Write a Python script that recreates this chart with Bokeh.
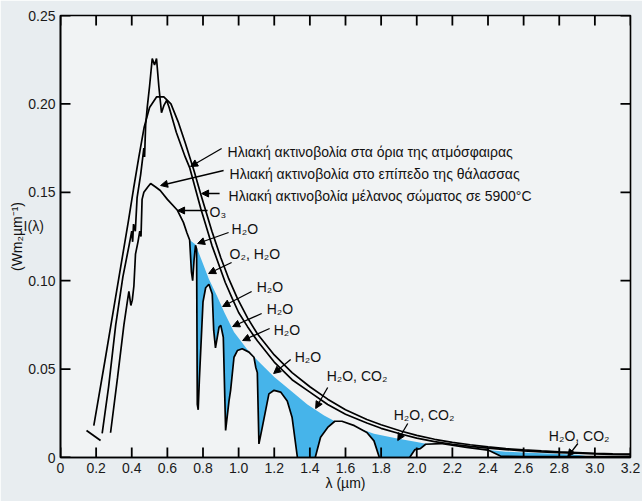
import math
from bokeh.plotting import figure
from bokeh.models import Range1d, FixedTicker, Label, Arrow, NormalHead, Title
from bokeh.embed import file_html
from bokeh.resources import INLINE

# ---------------- data ----------------
toa_wl = [0.234, 0.27, 0.31, 0.35, 0.385, 0.40, 0.405, 0.41, 0.42, 0.43, 0.45, 0.468, 0.472,
          0.478, 0.487, 0.50, 0.515, 0.528, 0.539, 0.552, 0.567, 0.58, 0.596, 0.61, 0.65, 0.70,
          0.725, 0.787, 0.85, 0.925, 0.964, 1.0, 1.05, 1.105, 1.2, 1.3, 1.4, 1.5, 1.6, 1.72,
          1.8, 1.91, 2.0, 2.1, 2.2, 2.3, 2.4, 2.5, 2.6, 2.7, 2.8, 2.9, 3.0, 3.1, 3.2]
toa_irr = [0.0136, 0.040, 0.075, 0.102, 0.120, 0.128, 0.122, 0.132, 0.128, 0.147, 0.160, 0.175,
           0.170, 0.188, 0.198, 0.210, 0.2257, 0.222, 0.2257, 0.210, 0.195, 0.199, 0.202, 0.198,
           0.184, 0.170, 0.164, 0.141, 0.120, 0.099, 0.090, 0.082, 0.074, 0.066, 0.054, 0.044,
           0.037, 0.030, 0.0245, 0.0195, 0.0165, 0.0133, 0.011, 0.009, 0.0075, 0.0063, 0.0053,
           0.0045, 0.0038, 0.0032, 0.0028, 0.0024, 0.0021, 0.0018, 0.0016]

bb_wl = [0.187, 0.25, 0.30, 0.35, 0.38, 0.41, 0.44, 0.47, 0.50, 0.54, 0.58, 0.62, 0.66, 0.70,
         0.75, 0.787, 0.85, 0.90, 0.945, 0.993, 1.05, 1.105, 1.2, 1.3, 1.4, 1.5, 1.6, 1.72,
         1.8, 1.91, 2.0, 2.1, 2.2, 2.3, 2.4, 2.5, 2.6, 2.7, 2.8, 2.9, 3.0, 3.1, 3.2]
bb_irr = [0.018, 0.055, 0.085, 0.115, 0.133, 0.152, 0.170, 0.187, 0.198, 0.204, 0.204, 0.200,
          0.190, 0.178, 0.162, 0.149, 0.128, 0.113, 0.101, 0.090, 0.079, 0.070, 0.058, 0.048,
          0.040, 0.033, 0.027, 0.0215, 0.0185, 0.015, 0.0125, 0.0103, 0.0086, 0.0072, 0.006,
          0.005, 0.0043, 0.0037, 0.0032, 0.0028, 0.0024, 0.0021, 0.0019]

sea_wl = [0.281, 0.32, 0.356, 0.375, 0.384, 0.395, 0.403, 0.412, 0.421, 0.435, 0.445, 0.452,
          0.458, 0.468, 0.49, 0.506, 0.534, 0.56, 0.60, 0.655, 0.69, 0.71, 0.725, 0.735, 0.742,
          0.75, 0.758, 0.764, 0.768, 0.773, 0.78, 0.80, 0.815, 0.833, 0.852, 0.86, 0.87, 0.89,
          0.90, 0.914, 0.927, 0.946, 0.955, 0.974, 0.993, 1.02, 1.058, 1.086, 1.096, 1.105,
          1.114, 1.133, 1.17, 1.199, 1.236, 1.273, 1.30, 1.33, 1.43, 1.46, 1.50, 1.54, 1.58,
          1.65, 1.72, 1.76, 1.79, 1.96, 1.99, 2.02, 2.05, 2.135, 2.28, 2.40, 2.47, 2.6, 2.8,
          3.0, 3.2]
sea_irr = [0.014, 0.045, 0.075, 0.088, 0.094, 0.086, 0.089, 0.097, 0.115, 0.122, 0.128, 0.125,
           0.146, 0.150, 0.153, 0.155, 0.153, 0.151, 0.146, 0.140, 0.133, 0.127, 0.123, 0.105,
           0.100, 0.112, 0.120, 0.118, 0.030, 0.027, 0.045, 0.088, 0.096, 0.098, 0.0925, 0.072,
           0.062, 0.0737, 0.0747, 0.068, 0.0153, 0.032, 0.038, 0.0567, 0.0605, 0.0615, 0.0596,
           0.0567, 0.0511, 0.048, 0.0077, 0.0172, 0.036, 0.038, 0.037, 0.032, 0.0228, 0.0, 0.0,
           0.0115, 0.017, 0.0205, 0.0205, 0.018, 0.0141, 0.0094, 0.0, 0.0, 0.0045, 0.005,
           0.0075, 0.0079, 0.0057, 0.0042, 0.0008, 0.0005, 0.0005, 0.0005, 0.0005]

scat_wl = [0.725, 0.758, 0.787, 0.833, 0.88, 0.92, 0.974, 1.011, 1.05, 1.105, 1.2, 1.29,
           1.386, 1.48, 1.54, 1.58, 1.65, 1.70, 1.76, 1.89, 2.0, 2.05, 2.135, 2.28, 2.40, 2.5,
           2.6, 2.7, 2.8, 2.9, 2.95]
scat_irr = [0.123, 0.1205, 0.113, 0.101, 0.091, 0.082, 0.071, 0.066, 0.061, 0.055, 0.0455,
            0.038, 0.030, 0.0237, 0.0205, 0.0205, 0.018, 0.0155, 0.0135, 0.0108, 0.0088,
            0.0078, 0.0079, 0.0058, 0.0043, 0.0033, 0.0028, 0.0024, 0.002, 0.0015, 0.0008]

brk_wl = [0.146, 0.225]
brk_irr = [0.0153, 0.0096]

x_ticks = [0.0, 0.2, 0.4, 0.6, 0.8, 1.0, 1.2, 1.4, 1.6, 1.8, 2.0, 2.2, 2.4, 2.6, 2.8, 3.0, 3.2]
x_tick_labels = ["0", "0.2", "0.4", "0.6", "0.8", "1.0", "1.2", "1.4", "1.6", "1.8", "2.0",
                 "2.2", "2.4", "2.6", "2.8", "3.0", "3.2"]
y_ticks = [0.0, 0.05, 0.10, 0.15, 0.20, 0.25]
y_tick_labels = ["0", "0.05", "0.10", "0.15", "0.20", "0.25"]
y_symbol = "I(λ)"
y_symbol_at = 0.131
y_units = "(Wm₂µm⁻¹)"
x_title = "λ (µm)"

FONT = "Liberation Sans"
BLUE = "#46b4ea"
X0, X1, Y0, Y1 = 0.0, 3.2, 0.0, 0.25

p = figure(width=642, height=501, x_range=Range1d(X0, X1), y_range=Range1d(Y0, Y1),
           output_backend="svg", toolbar_location=None,
           min_border_left=60, min_border_right=12, min_border_top=15, min_border_bottom=44)
p.background_fill_color = "#f1f3f4"
p.border_fill_color = "#e8edf0"
p.outline_line_color = "black"
p.outline_line_width = 1.6
p.xgrid.visible = False
p.ygrid.visible = False

xax = p.xaxis[0]
yax = p.yaxis[0]
xax.ticker = FixedTicker(ticks=x_ticks)
xax.major_label_overrides = dict(zip(x_ticks, x_tick_labels))
yax.ticker = FixedTicker(ticks=y_ticks + [y_symbol_at])
yover = dict(zip(y_ticks, y_tick_labels))
yover[y_symbol_at] = y_symbol + "\u00a0\u00a0\u00a0"
yax.major_label_overrides = yover
for ax in (xax, yax):
    ax.axis_line_color = "black"
    ax.axis_line_width = 1.6
    ax.major_tick_in = 0
    ax.major_tick_out = 0
    ax.minor_tick_line_color = None
    ax.major_label_text_font = FONT
    ax.major_label_text_font_size = "14px"
    ax.major_label_text_color = "#1a1a1a"
    ax.major_label_standoff = 5

band_lo = [(w, v) for w, v in zip(sea_wl, sea_irr) if scat_wl[0] <= w <= scat_wl[-1]]
poly_x = list(scat_wl) + [w for w, _ in reversed(band_lo)]
poly_y = list(scat_irr) + [v for _, v in reversed(band_lo)]
p.patch(poly_x, poly_y, fill_color=BLUE, line_color=None)

LW = 1.7
p.line(bb_wl, bb_irr, line_color="black", line_width=LW)
p.line(toa_wl, toa_irr, line_color="black", line_width=LW)
p.line(sea_wl, sea_irr, line_color="black", line_width=LW)
p.line(brk_wl, brk_irr, line_color="black", line_width=LW)

# inward tick marks: drawn as rectangles straddling each frame edge (screen-sized)
TK = 10
n_x, n_y = len(x_ticks), len(y_ticks)
p.rect(x=x_ticks + x_ticks, y=[Y0] * n_x + [Y1] * n_x, width=1.8, height=2 * TK,
       width_units="screen", height_units="screen", fill_color="black", line_color=None)
p.rect(x=[X0] * n_y + [X1] * n_y, y=y_ticks + y_ticks, width=2 * TK, height=1.8,
       width_units="screen", height_units="screen", fill_color="black", line_color=None)


def dx(px):
    return (px - 60) / 178.0


def dy(py):
    return (457 - py) / 1768.0


def label(px, py, text, size="14px", align="left"):
    p.add_layout(Label(x=dx(px), y=dy(py), text=text, text_font=FONT, text_font_size=size,
                       text_align=align, text_baseline="middle", text_color="#111111"))


def arrow(x0, y0, x1, y1):
    p.add_layout(Arrow(x_start=dx(x0), y_start=dy(y0), x_end=dx(x1), y_end=dy(y1),
                       line_color="black", line_width=1.3,
                       end=NormalHead(size=7, fill_color="black", line_color="black",
                                      line_width=1)))


label(227, 151, "Ηλιακή ακτινοβολία στα όρια της ατμόσφαιρας")
arrow(221, 148, 190, 166)
label(229, 173, "Ηλιακή ακτινοβολία στο επίπεδο της θάλασσας")
arrow(223, 170, 160, 185)
label(228, 195, "Ηλιακή ακτινοβολία μέλανος σώματος σε 5900°C")
arrow(219, 193, 201, 193)

label(209, 211, "O₃")
arrow(207, 210, 177, 210)
label(231, 228, "H₂O")
arrow(228, 232, 197, 243)
label(229, 253, "O₂, H₂O")
arrow(231, 262, 208, 273)
label(256, 286, "H₂O")
arrow(251, 291, 222, 306)
label(266, 308, "H₂O")
arrow(261, 313, 232, 326)
label(273, 329, "H₂O")
arrow(269, 328, 242, 340)
label(294, 356, "H₂O")
arrow(290, 359, 273, 373)
label(326, 375, "H₂O, CO₂")
arrow(327, 387, 315, 408)
label(393, 414, "H₂O, CO₂")
arrow(407, 423, 397, 440)
label(548, 435, "H₂O, CO₂")
arrow(577, 443, 567, 456)

p.add_layout(Title(text=x_title, align="center", offset=17, text_font=FONT,
                   text_font_size="14px", text_font_style="normal", text_color="#111111",
                   standoff=-6), "below")
p.add_layout(Title(text=y_units, align="center", offset=99, text_font=FONT,
                   text_font_size="14px", text_font_style="normal", text_color="#111111",
                   standoff=-8), "left")

open("out.html", "w").write(file_html(p, INLINE))
